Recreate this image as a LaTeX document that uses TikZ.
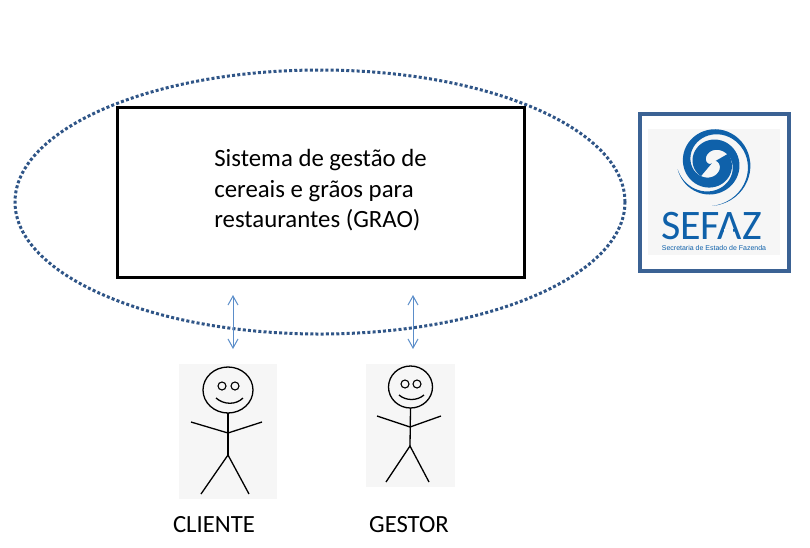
\documentclass[tikz,border=0pt]{standalone}
\usepackage{fontspec}
\setmainfont{Carlito}
\newfontfamily\logofont{Liberation Sans}
\usepackage{tikz}
\usetikzlibrary{shapes.geometric,arrows.meta}
\definecolor{dotblue}{RGB}{47,85,135}
\definecolor{framblue}{RGB}{59,98,148}
\definecolor{arrowblue}{RGB}{91,141,201}
\definecolor{logoblue}{RGB}{15,97,170}
\definecolor{paper}{RGB}{246,246,246}

\begin{document}
\begin{tikzpicture}[x=1pt,y=-1pt]
	\tikzstyle{every node}=[inner sep=0pt,outer sep=0pt]
	\tikzstyle{head}=[ellipse,draw=black,line width=1.3pt]
	\tikzstyle{eye}=[circle,draw=black,line width=1.1pt,minimum size=8pt]
	\tikzstyle{limb}=[draw=black,line width=1.3pt]
	\tikzstyle{link}=[draw=arrowblue,line width=1pt,<->,>={Straight Barb[length=9pt,width=10pt]}]
	\tikzstyle{caption}=[font=\fontsize{24.7}{24.7}\selectfont]
	\useasboundingbox (0,0) rectangle (810,547);

	% scope of the system
	\node[ellipse,draw=dotblue,line width=3pt,dash pattern=on 3pt off 2.2pt,minimum width=610pt,minimum height=264pt] (scope) at (320,202) {};
	\node[draw=black,line width=3pt,fill=white,minimum width=407pt,minimum height=170pt] (system) at (320.5,192) {};
	\node[align=left,font=\fontsize{24.8}{30.5}\selectfont] (title) at (320.5,190.5) {Sistema de gestão de\\cereais e grãos para\\restaurantes (GRAO)};

	% logo
	\node[draw=framblue,line width=3.1pt,minimum width=149pt,minimum height=157pt] (logoframe) at (714.5,192.5) {};
	\node[fill=paper,minimum width=132pt,minimum height=126pt] (logopaper) at (714,192) {};
	\foreach \turn/\from/\upto/\fat in {0/130/530/8.5,160/170/650/7}
		\fill[logoblue,shift={(712,163)}]
			plot[domain=\from:\upto,samples=70,variable=\t] ({(.066*\t+\fat*(\upto-\t)/(\upto-\from))*cos(\t+\turn)},{(.066*\t+\fat*(\upto-\t)/(\upto-\from))*sin(\t+\turn)})
			-- plot[domain=\upto:\from,samples=70,variable=\t] ({(.066*\t-\fat*(\upto-\t)/(\upto-\from))*cos(\t+\turn)},{(.066*\t-\fat*(\upto-\t)/(\upto-\from))*sin(\t+\turn)}) -- cycle;
	\node[text=logoblue,font=\fontsize{42}{42}\selectfont] (sefaz) at (711.5,226) {SEFAZ};
	\fill[paper] (723.5,228.5) rectangle (732.5,233.5);
	\node[text=logoblue,font=\logofont\fontsize{7}{7}\selectfont] (secretaria) at (714,248) {Secretaria de Estado de Fazenda};

	% cliente
	\node[fill=paper,minimum width=98pt,minimum height=135pt] (clientepaper) at (228,431.5) {};
	\node[head,minimum width=50pt,minimum height=46pt] (clientehead) at (228,390) {};
	\node[eye] (clienteeyea) at (222,386) {};
	\node[eye] (clienteeyeb) at (235,386) {};
	\draw[limb] (216,398) .. controls (224,405) and (236,405) .. (243,398);
	\coordinate (clientehip) at (228,455);
	\coordinate (clientearm) at (228,433);
	\draw[limb] (clientehead.south) -- (clientehip);
	\draw[limb] (191,422) -- (clientearm) -- (262,422);
	\draw[limb] (201,494) -- (clientehip) -- (249,494);
	\node[caption] (clientelabel) at (214,525) {CLIENTE};

	% gestor
	\node[fill=paper,minimum width=89pt,minimum height=123pt] (gestorpaper) at (410.5,425.5) {};
	\node[head,minimum width=44pt,minimum height=42pt] (gestorhead) at (410.5,387) {};
	\node[eye] (gestoreyea) at (405,384) {};
	\node[eye] (gestoreyeb) at (417,384) {};
	\draw[limb] (399,395) .. controls (406,401) and (417,401) .. (424,395);
	\coordinate (gestorhip) at (410,446);
	\coordinate (gestorarm) at (410,427);
	\draw[limb] (gestorhead.south) -- (gestorhip);
	\draw[limb] (377,416) -- (gestorarm) -- (441,416);
	\draw[limb] (386,482) -- (gestorhip) -- (429,482);
	\node[caption] (gestorlabel) at (409,525) {GESTOR};

	% links
	\coordinate (clientetop) at (233,295);
	\coordinate (clientebot) at (233,349);
	\coordinate (gestortop) at (413,295);
	\coordinate (gestorbot) at (413,349);
	\draw[link] (clientetop) -- (clientebot);
	\draw[link] (gestortop) -- (gestorbot);
\end{tikzpicture}
\end{document}
